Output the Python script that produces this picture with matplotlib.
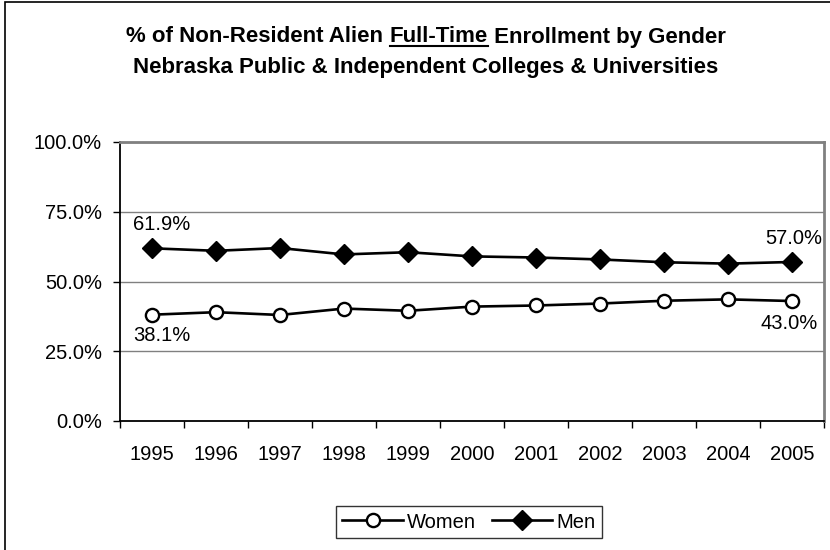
import numpy as np
import matplotlib
matplotlib.use("Agg")
import matplotlib.pyplot as plt
from matplotlib.patches import Rectangle
from matplotlib.lines import Line2D

plt.rcParams['font.family'] = ['Liberation Sans', 'DejaVu Sans']

### Data ###

years = ["1995", "1996", "1997", "1998", "1999", "2000",
         "2001", "2002", "2003", "2004", "2005"]
women = [38.1, 39.0, 38.0, 40.3, 39.5, 41.0, 41.4, 42.1, 43.1, 43.6, 43.0]
men = [61.9, 61.0, 62.0, 59.7, 60.5, 59.0, 58.6, 57.9, 56.9, 56.4, 57.0]
y_ticks = [0, 25, 50, 75, 100]

### Figure ###

W, H = 830, 550
FS = 14.5
fig = plt.figure(figsize=(W / 100, H / 100), dpi=100)

# chart frame (cut off at right and bottom like the original)
fig.patches.append(Rectangle((5 / W, -0.1), 1.2, 1.1 - 2 / H, transform=fig.transFigure,
                             fill=False, edgecolor='black', lw=1.2))

ax = fig.add_axes([120 / W, (H - 421) / H, 704 / W, 279 / H])
x = np.arange(len(years))

ax.plot(x, women, color='black', lw=1.9, marker='o', ms=9.5, mfc='white',
        mec='black', mew=1.7, label='Women', zorder=3)
ax.plot(x, men, color='black', lw=1.9, marker='D', ms=10, mfc='black',
        mec='black', label='Men', zorder=3)

ax.set_xlim(-0.5, len(years) - 0.5)
ax.set_ylim(0, 100)

# gridlines
for v in y_ticks[1:]:
    ax.axhline(v, color='#808080', lw=1, zorder=1)

ax.set_yticks(y_ticks)
ax.set_yticklabels(["%.1f%%" % v for v in y_ticks], fontsize=FS)
ax.tick_params(axis='y', direction='out', length=5, width=1, pad=8)

ax.set_xticks(x)
ax.set_xticklabels(years, fontsize=FS)
ax.set_xticks(np.arange(-0.5, len(years)), minor=True)
ax.tick_params(axis='x', which='major', length=0, pad=17)
ax.tick_params(axis='x', which='minor', direction='out', length=5, width=1)

for s in ['left', 'bottom']:
    ax.spines[s].set_color('black')
    ax.spines[s].set_linewidth(1.3)
for s in ['top', 'right']:
    ax.spines[s].set_color('#808080')
    ax.spines[s].set_linewidth(2)

# data labels at the ends
ax.annotate("%.1f%%" % men[0], (x[0], men[0]), xytext=(7, 17), textcoords='offset points',
            ha='center', va='center', fontsize=FS)
ax.annotate("%.1f%%" % women[0], (x[0], women[0]), xytext=(7, -15), textcoords='offset points',
            ha='center', va='center', fontsize=FS)
ax.annotate("%.1f%%" % men[-1], (x[-1], men[-1]), xytext=(1, 17), textcoords='offset points',
            ha='center', va='center', fontsize=FS)
ax.annotate("%.1f%%" % women[-1], (x[-1], women[-1]), xytext=(-2, -16), textcoords='offset points',
            ha='center', va='center', fontsize=FS)

# title with underlined "Full-Time"
TFS = 16
fig.canvas.draw()
r = fig.canvas.get_renderer()
parts = ["% of Non-Resident Alien ", "Full-Time", " Enrollment by Gender"]


def text_width(s):
    t = fig.text(0, 0, s, fontsize=TFS, fontweight='bold')
    w = t.get_window_extent(r).width
    t.remove()
    return w


total = text_width("".join(parts))
w0 = text_width(parts[0])
w1 = text_width(parts[0] + parts[1])
cx, y1 = 426, H - 37
left = cx - total / 2
fig.text(left / W, y1 / H, parts[0], fontsize=TFS, fontweight='bold', va='center')
ft = fig.text((left + w0) / W, y1 / H, parts[1], fontsize=TFS, fontweight='bold', va='center')
fig.text((left + w1) / W, y1 / H, parts[2], fontsize=TFS, fontweight='bold', va='center')
fig.canvas.draw()
bb = ft.get_window_extent(r)
uy = (bb.y0 + 2) / H
fig.add_artist(Line2D([bb.x0 / W, bb.x1 / W], [uy, uy], transform=fig.transFigure,
                      color='black', lw=1.5))
fig.text(cx / W, (H - 68) / H, "Nebraska Public & Independent Colleges & Universities",
         fontsize=TFS, fontweight='bold', ha='center', va='center')

# legend
leg = fig.legend(loc='center', bbox_to_anchor=(469 / W, 1 - 522 / H), ncol=2, fontsize=FS,
                 frameon=True, fancybox=False, edgecolor='black', handlelength=3,
                 columnspacing=0.8, handletextpad=0.2, borderpad=0.3, borderaxespad=0)
leg.get_frame().set_linewidth(1)

fig.savefig("out.png", dpi=100)
